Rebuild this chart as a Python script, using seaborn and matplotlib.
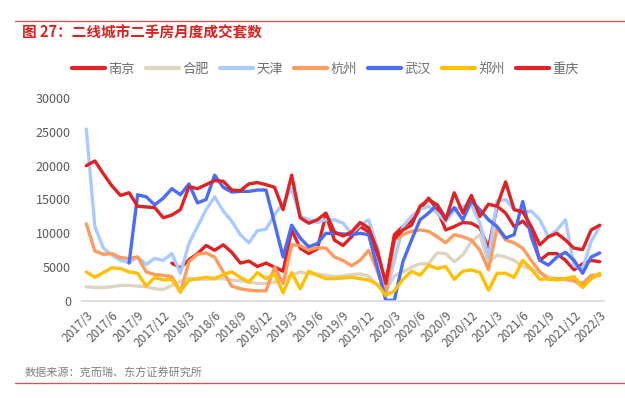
import numpy as np
import pandas as pd
import matplotlib
matplotlib.use("Agg")
import matplotlib.pyplot as plt
from matplotlib.lines import Line2D
import seaborn as sns

# months 2017/3 .. 2022/3
months = [f"{y}/{m}" for y in range(2017, 2023) for m in range(1, 13)][2:63]

cities = ["南京", "合肥", "天津", "杭州", "武汉", "郑州", "重庆"]
colors = ["#e02222", "#ddd4c2", "#a9cbff", "#ff9b5c", "#4a6cf7", "#ffc000", "#e02222"]

nanjing = [np.nan] * 10 + [
    5600, 4900, 6100, 7000, 8200, 7500, 8300, 7200, 5600, 5900,
    5100, 5600, 5000, 4400, 10500, 7800, 7000, 7700, 12700, 9000,
    8200, 9500, 11000, 10200, 7000, 2700, 9800, 11000, 11800, 13500,
    15200, 13500, 10500, 11000, 11600, 11500, 10800, 7800, 14000, 13000,
    11000, 11800, 10500, 6000, 7000, 7000, 6000, 4600, 5500, 6000, 5800]

hefei = [2100, 2000, 2000, 2100, 2300, 2300, 2200, 2100, 1800, 1700,
         2300, 2900, 3400, 3200, 3200, 3300, 3300, 3100, 3000, 2800,
         2600, 2600, 2800, 3200, 3800, 4300, 4000, 4000, 3800, 3600,
         3700, 3900, 4000, 3700, 2300, 1500, 3700, 4300, 5000, 5500,
         5500, 7100, 7000, 5800, 6800, 8800, 9800, 5600, 6800, 6500,
         6000, 5100, 4700, 4200, 3600, 3300, 3100, 2900, 2100, 3300, 3800]

tianjin = [25400, 11000, 7800, 6800, 6000, 5700, 6500, 5400, 6300, 6000,
           7000, 4100, 8500, 11000, 13500, 15400, 13300, 11800, 9800, 8600,
           10400, 10600, 12800, 14400, 16600, 12500, 12000, 11600, 12000, 12000,
           11500, 10000, 11200, 12000, 8000, 1000, 6000, 11000, 12500, 13500,
           14000, 13000, 11700, 13500, 14000, 14200, 11500, 6400, 14800, 15000,
           13500, 13000, 13300, 12000, 9500, 10500, 12000, 5200, 4800, 8800, 11000]

hangzhou = [11400, 7400, 6900, 7000, 6400, 6300, 6500, 4300, 3900, 3800,
            3600, 1300, 5800, 6900, 7100, 6500, 4300, 2200, 1800, 1600,
            1500, 1500, 5000, 2600, 8300, 8200, 7500, 7900, 7800, 6500,
            6000, 5200, 6000, 7500, 4500, 1000, 9000, 9800, 10300, 10500,
            10300, 9500, 8600, 9800, 9500, 9000, 7500, 4600, 10800, 9000,
            8600, 7800, 6000, 4300, 3200, 3300, 3300, 3000, 2600, 3800, 3800]

wuhan = [np.nan] * 5 + [
    5600, 15700, 15400, 14200, 15200, 16600, 15700, 17300, 14500, 15000,
    18600, 16800, 16100, 16200, 16200, 16400, 16400, 11500, 6500, 11200,
    9300, 8000, 8500, 10000, 10000, 9900, 9800, 10000, 9800, 5000,
    100, 100, 5800, 9000, 12000, 13000, 14200, 12300, 13800, 12000,
    14800, 13500, 12000, 11000, 9300, 9800, 14700, 9500, 6000, 5300,
    6500, 7200, 6000, 4100, 6500, 7100]

zhengzhou = [4300, 3500, 4200, 4900, 4800, 4300, 4100, 2200, 3500, 3100,
             3200, 1400, 3100, 3300, 3500, 3300, 3900, 4300, 3500, 2800,
             4200, 3300, 4000, 1200, 4200, 1800, 4400, 3800, 3300, 3300,
             3400, 3500, 3300, 3100, 2500, 800, 1500, 3200, 4400, 3800,
             5300, 4800, 5100, 3200, 4400, 4600, 4200, 1600, 4100, 4100,
             3500, 6000, 4700, 3200, 3300, 3100, 3300, 3600, 2000, 3300, 4100]

chongqing = [20000, 20700, 18800, 17000, 15600, 16000, 14000, 13900, 13800, 12300,
             12700, 13500, 16900, 16600, 17200, 17800, 17700, 16400, 16300, 17300,
             17500, 17200, 16800, 13500, 18600, 12300, 11500, 12000, 13000, 10200,
             9600, 10200, 11600, 10800, 7500, 2600, 9200, 10500, 11200, 14000,
             15000, 14200, 12000, 16000, 13000, 15600, 12500, 14300, 14000, 17600,
             13500, 13200, 11000, 8300, 9500, 10000, 9000, 7800, 7600, 10500, 11200]

series = [nanjing, hefei, tianjin, hangzhou, wuhan, zhengzhou, chongqing]

frames = []
for name, vals in zip(cities, series):
    frames.append(pd.DataFrame({"idx": np.arange(len(months)), "city": name, "value": vals}))
df = pd.concat(frames, ignore_index=True)

sns.set_style("white")
plt.rcParams["font.family"] = ["Noto Sans CJK SC", "DejaVu Sans"]

fig = plt.figure(figsize=(6.25, 3.98), dpi=100)
ax = fig.add_axes([82 / 625, 1 - 301 / 398, 522 / 625, 203 / 398])

sns.lineplot(data=df, x="idx", y="value", hue="city", hue_order=cities,
             palette=dict(zip(cities, colors)), estimator=None, sort=False,
             linewidth=2.4, ax=ax, legend=False)

ax.set_xlim(-0.5, len(months) - 0.5)
ax.set_ylim(0, 30000)
ax.set_yticks(range(0, 30001, 5000))
ax.set_yticklabels([str(v) for v in range(0, 30001, 5000)], fontsize=9, color="#595959")
ax.set_xticks(range(0, len(months), 3))
ax.set_xticklabels(months[::3], rotation=45, ha="right", rotation_mode="anchor",
                   fontsize=8.5, color="#595959")
ax.tick_params(axis="both", length=0)
ax.tick_params(axis="x", pad=6)
ax.tick_params(axis="y", pad=8)
ax.set_xlabel("")
ax.set_ylabel("")
for s in ["top", "right", "left"]:
    ax.spines[s].set_visible(False)
ax.spines["bottom"].set_color("#d9d9d9")
ax.spines["bottom"].set_linewidth(1.2)

handles = [Line2D([0], [0], color=c, lw=3) for c in colors]
fig.legend(handles, cities, loc="center left", bbox_to_anchor=(60 / 625, 1 - 69 / 398),
           ncol=7, frameon=False, fontsize=9.5, handlelength=2.5, handletextpad=0.25,
           columnspacing=0.85, labelcolor="#707070")

fig.text(22 / 625, 1 - 32 / 398, "图 27：二线城市二手房月度成交套数", fontsize=10.5,
         fontweight="bold", color="#e02020", va="center", ha="left")
fig.text(25 / 625, 1 - 373 / 398, "数据来源：克而瑞、东方证券研究所", fontsize=8,
         color="#808080", va="center", ha="left")

fig.add_artist(Line2D([15 / 625, 1], [1 - 21 / 398] * 2, color="#e84a4a", lw=0.9))
fig.add_artist(Line2D([15 / 625, 1], [1 - 383 / 398] * 2, color="#e84a4a", lw=0.9))

fig.savefig("out.png", dpi=100)
